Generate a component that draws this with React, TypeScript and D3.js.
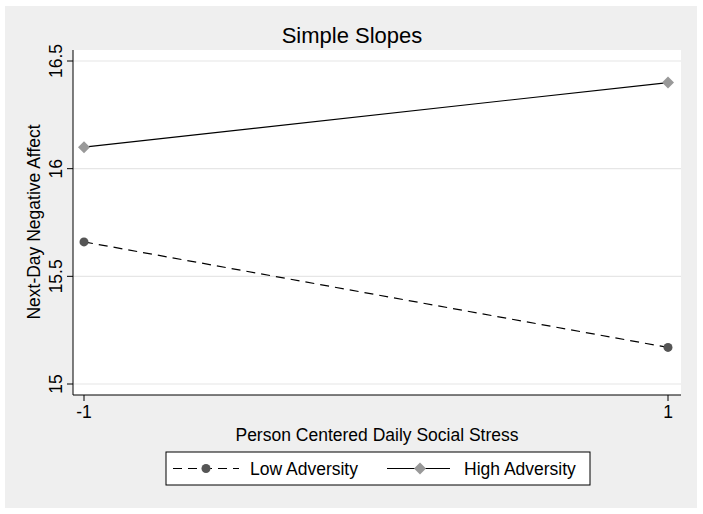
import React from "react";
import * as d3 from "d3";

const xValues = [-1, 1];
const lowAdversity = [15.66, 15.17];
const highAdversity = [16.1, 16.4];
const yTicks = [15, 15.5, 16, 16.5];
const xTicks = [-1, 1];
const seriesNames = ["Low Adversity", "High Adversity"];

const W = 703, H = 514;
const plot = { left: 73, right: 681, top: 50, bottom: 395 };

export default function App() {
  const x = d3.scaleLinear().domain([-1, 1]).range([84, 668]);
  const y = d3.scaleLinear().domain([15, 16.5]).range([384, 61]);
  const line = d3.line<[number, number]>().x(d => x(d[0])).y(d => y(d[1]));
  const lowPts = xValues.map((v, i) => [v, lowAdversity[i]] as [number, number]);
  const highPts = xValues.map((v, i) => [v, highAdversity[i]] as [number, number]);
  const font = "'Liberation Sans', Arial, Helvetica, sans-serif";
  const diamond = (cx: number, cy: number, r: number) =>
    `M${cx},${cy - r}L${cx + r},${cy}L${cx},${cy + r}L${cx - r},${cy}Z`;
  const fs = 17.5;

  return (
    <svg width={W} height={H} style={{ position: "absolute", left: 0, top: 0 }} fontFamily={font}>
      <rect x={0} y={0} width={W} height={H} fill="#ffffff" />
      <rect x={5} y={6} width={692} height={502} fill="#efefef" />
      <rect x={plot.left} y={plot.top} width={plot.right - plot.left} height={plot.bottom - plot.top} fill="#ffffff" />
      {yTicks.map(t => (
        <line key={t} x1={plot.left} x2={plot.right} y1={y(t)} y2={y(t)} stroke="#e6e6e6" strokeWidth={1.2} />
      ))}
      <text x={352} y={43} textAnchor="middle" fontSize={22} fill="#000">Simple Slopes</text>
      {/* y axis */}
      <line x1={plot.left} x2={plot.left} y1={plot.top} y2={plot.bottom} stroke="#000" strokeWidth={1} />
      {yTicks.map(t => (
        <g key={t}>
          <line x1={plot.left - 6} x2={plot.left} y1={y(t)} y2={y(t)} stroke="#000" />
          <text transform={`translate(${plot.left - 11},${y(t)}) rotate(-90)`} textAnchor="middle" fontSize={fs} fill="#000">{String(t)}</text>
        </g>
      ))}
      <text transform={`translate(40,222) rotate(-90)`} textAnchor="middle" fontSize={fs} fill="#000">Next-Day Negative Affect</text>
      {/* x axis */}
      <line x1={plot.left} x2={plot.right} y1={plot.bottom} y2={plot.bottom} stroke="#000" />
      {xTicks.map(t => (
        <g key={t}>
          <line x1={x(t)} x2={x(t)} y1={plot.bottom} y2={plot.bottom + 6} stroke="#000" />
          <text x={x(t)} y={418} textAnchor="middle" fontSize={fs} fill="#000">{String(t)}</text>
        </g>
      ))}
      <text x={(plot.left + plot.right) / 2} y={441} textAnchor="middle" fontSize={fs} fill="#000">Person Centered Daily Social Stress</text>
      {/* series */}
      <path d={line(lowPts) || ""} fill="none" stroke="#000" strokeWidth={1.2} strokeDasharray="9,6" />
      <path d={line(highPts) || ""} fill="none" stroke="#000" strokeWidth={1.2} />
      {lowPts.map((p, i) => (
        <circle key={i} cx={x(p[0])} cy={y(p[1])} r={4.5} fill="#555555" />
      ))}
      {highPts.map((p, i) => (
        <path key={i} d={diamond(x(p[0]), y(p[1]), 6)} fill="#999999" />
      ))}
      {/* legend */}
      <rect x={166} y={452} width={424} height={33} fill="#ffffff" stroke="#000" strokeWidth={1} />
      <line x1={173} x2={239} y1={468.5} y2={468.5} stroke="#000" strokeWidth={1.2} strokeDasharray="9,6" />
      <circle cx={206} cy={468.5} r={4.5} fill="#555555" />
      <text x={250} y={475} fontSize={fs} fill="#000">{seriesNames[0]}</text>
      <line x1={387} x2={450} y1={468.5} y2={468.5} stroke="#000" strokeWidth={1.2} />
      <path d={diamond(420, 468.5, 6)} fill="#999999" />
      <text x={464} y={475} fontSize={fs} fill="#000">{seriesNames[1]}</text>
    </svg>
  );
}
